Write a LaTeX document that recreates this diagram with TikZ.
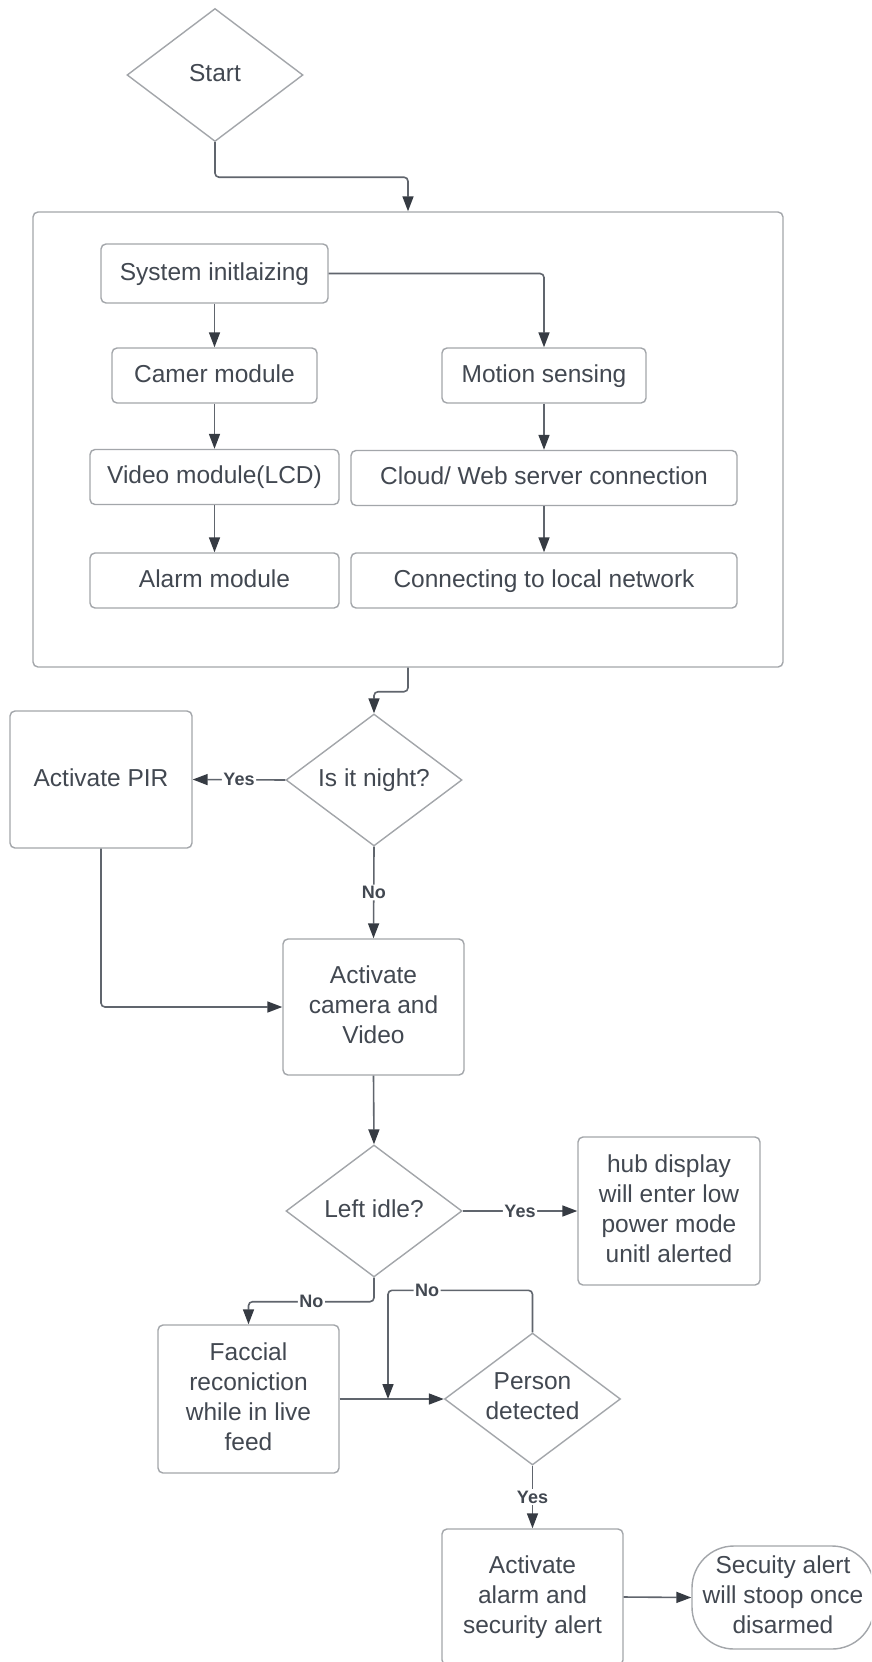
\documentclass[tikz,border=0pt]{standalone}
\usepackage{fontspec}
\usetikzlibrary{arrows.meta,shapes.geometric}
\newfontfamily\lsans{Liberation Sans}
\definecolor{ink}{HTML}{424851}
\definecolor{boxline}{HTML}{A3A6AA}
\definecolor{wire}{HTML}{60656D}
\definecolor{tipcol}{HTML}{363B43}
\newcommand{\mainfs}{\lsans\fontsize{24.5}{30}\selectfont}
\newcommand{\labfs}{\lsans\bfseries\fontsize{18}{21}\selectfont}
\tikzset{
  box/.style={draw=boxline, line width=1.4pt, rounded corners=5pt, fill=white,
    text=ink, font=\mainfs, align=center, inner sep=0pt, text depth=5pt},
  oneline/.style={text height=18pt, text depth=5pt},
  dia/.style={diamond, aspect=1.33, draw=boxline, line width=1.4pt, fill=white,
    text=ink, font=\mainfs, align=center, inner sep=0pt, text depth=5pt,
    minimum width=176pt, minimum height=132pt},
  stadium/.style={draw=boxline, line width=1.4pt, rounded corners=42pt, fill=white,
    text=ink, font=\mainfs, align=center, inner sep=0pt, text depth=5pt},
  link/.style={draw=wire, line width=1.6pt, rounded corners=4pt,
    -{Triangle[length=15pt,width=11pt,color=tipcol]}},
  lab/.style={fill=white, text=ink, font=\labfs, inner sep=1.5pt},
}
\begin{document}
\begin{tikzpicture}[x=1pt,y=-1pt]
\useasboundingbox (0,0) rectangle (871,1662);
\clip (0,0) rectangle (871,1662);
\fill[white] (0,0) rectangle (871,1662);

% start and initialisation frame
\node[dia, oneline, minimum width=176pt, minimum height=133pt] (start) at (215,75) {Start};
\node[box, minimum width=750pt, minimum height=455pt] (frame) at (408,439.5) {};

% initialisation modules
\node[box, oneline, minimum width=227pt, minimum height=59pt] (sys)    at (214.5,273.5) {System initlaizing};
\node[box, oneline, minimum width=205pt, minimum height=55pt] (cam)    at (214.5,375.5) {Camer module};
\node[box, oneline, minimum width=249pt, minimum height=55pt] (video)  at (214.5,477)   {Video module(LCD)};
\node[box, oneline, minimum width=249pt, minimum height=55pt] (alarmm) at (214.5,580.5) {Alarm module};
\node[box, oneline, minimum width=204pt, minimum height=55pt] (motion) at (544,375.5)   {Motion sensing};
\node[box, oneline, minimum width=386pt, minimum height=55pt] (cloud)  at (544,478)     {Cloud/ Web server connection};
\node[box, oneline, minimum width=386pt, minimum height=55pt] (net)    at (544,580.5)   {Connecting to local network};

% main flow
\node[dia, oneline] (night) at (374,780) {Is it night?};
\node[box, oneline, minimum width=182pt, minimum height=137pt] (pir) at (101,779.5) {Activate PIR};
\node[box, minimum width=181pt, minimum height=136pt] (act) at (373.5,1007) {Activate\\camera and\\Video};
\node[dia, oneline] (idle) at (374,1211) {Left idle?};
\node[box, minimum width=182pt, minimum height=148pt] (hub) at (669,1211) {hub display\\will enter low\\power mode\\unitl alerted};
\node[box, minimum width=181pt, minimum height=148pt] (face) at (248.5,1399) {Faccial\\reconiction\\while in live\\feed};
\node[dia] (person) at (532.5,1399) {Person\\detected};
\node[box, minimum width=181pt, minimum height=136pt] (alarm) at (532.5,1597) {Activate\\alarm and\\security alert};
\node[stadium, minimum width=182pt, minimum height=103pt] (stop) at (783,1597.5) {Secuity alert\\will stoop once\\disarmed};
\coordinate (loopend) at (388,1399);

% connectors
\draw[link] (start.south) -- ++(0,35) -| (frame.north);
\draw[link] (sys.east) -| (motion.north);
\draw[link] (sys.south) -- (cam.north);
\draw[link] (cam.south) -- (video.north);
\draw[link] (video.south) -- (alarmm.north);
\draw[link] (motion.south) -- (cloud.north);
\draw[link] (cloud.south) -- (net.north);
\draw[link] (frame.south) -- ++(0,24) -| (night.north);
\draw[link] (night.west) -- node[lab] {Yes} (pir.east);
\draw[link] (night.south) -- node[lab] {No} (act.north);
\draw[link] (pir.south) |- (act.west);
\draw[link] (act.south) -- (idle.north);
\draw[link] (idle.east) -- node[lab] {Yes} (hub.west);
\draw[link] (idle.south) -- ++(0,24) -| node[lab, pos=0.25] {No} (face.north);
\draw[link] (face.east) -- (person.west);
\draw[link] (person.north) -- ++(0,-42) -| node[lab, pos=0.365] {No} (loopend);
\draw[link] (person.south) -- node[lab] {Yes} (alarm.north);
\draw[link] (alarm.east) -- (stop.west);
\end{tikzpicture}
\end{document}
